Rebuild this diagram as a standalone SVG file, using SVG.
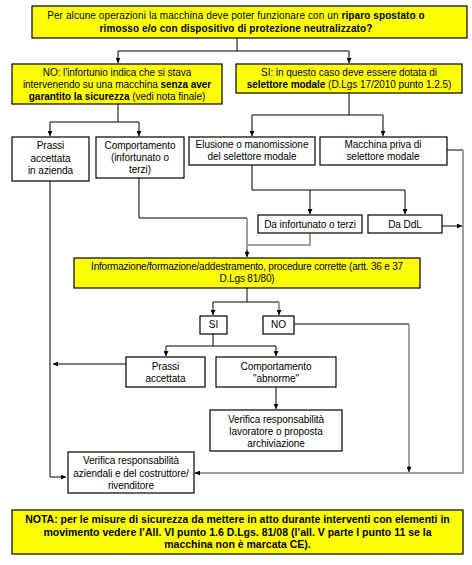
<svg xmlns="http://www.w3.org/2000/svg" width="472" height="565" viewBox="0 0 472 565">
<defs>
<style>
.y{fill:#ffff00;stroke:#000;stroke-width:1.2}
.w{fill:#fff;stroke:#000;stroke-width:1.2}
text{font-family:"Liberation Sans",Arial,sans-serif;font-size:10px;fill:#000;text-anchor:middle;letter-spacing:-0.05px}
.b{font-weight:bold}
.n{font-size:10.5px;letter-spacing:0}
.t{letter-spacing:0.1px}
.i{letter-spacing:-0.2px}
.c{fill:none;stroke:#000;stroke-width:1}
.g{fill:none;stroke:#808080;stroke-width:1.5}
</style>
<marker id="a" viewBox="0 0 8 8" refX="8" refY="4" markerWidth="5" markerHeight="5" orient="auto" markerUnits="userSpaceOnUse"><path d="M0,0L8,4L0,8z" fill="#000"/></marker>
</defs>
<rect width="472" height="565" fill="#fff"/>
<g id="connectors">
<path class="c" d="M237,38V51M118,51H349M118,51V63" marker-end="url(#a)"/>
<path class="c" d="M349,51V63" marker-end="url(#a)"/>
<path class="c" d="M118,104V122M50,122H139M50,122V136" marker-end="url(#a)"/>
<path class="c" d="M139,122V136" marker-end="url(#a)"/>
<path class="c" d="M349,93V115M252,115H383M252,115V136" marker-end="url(#a)"/>
<path class="c" d="M383,115V136" marker-end="url(#a)"/>
<path class="c" d="M252,165V190H405M310,190V214" marker-end="url(#a)"/>
<path class="c" d="M405,190V214" marker-end="url(#a)"/>
<path class="c" d="M442,226H462" marker-end="url(#a)"/>
<path class="c" d="M447,150H463"/>
<path class="g" d="M463,150V473H195"/>
<path class="c" d="M200,473H195" marker-end="url(#a)"/>
<path class="c" d="M139,178V218H247"/>
<path class="g" d="M247,218V252M310,233V245H247"/>
<path class="c" d="M247,250V257" marker-end="url(#a)"/>
<path class="c" d="M50,181V477H66" marker-end="url(#a)"/>
<path class="c" d="M247,288V302M213,302H279M213,302V315" marker-end="url(#a)"/>
<path class="g" d="M279,302V312"/>
<path class="c" d="M279,310V315" marker-end="url(#a)"/>
<path class="c" d="M294,324H409"/>
<path class="g" d="M409,324V468"/>
<path class="c" d="M409,466V472" marker-end="url(#a)"/>
<path class="c" d="M213,334V346M166,346H276M166,346V356" marker-end="url(#a)"/>
<path class="c" d="M276,346V356" marker-end="url(#a)"/>
<path class="c" d="M126,364H53" marker-end="url(#a)"/>
<path class="c" d="M276,387V409" marker-end="url(#a)"/>
</g>
<g id="n-top">
<rect class="y" x="32" y="6" width="435" height="32"/>
<text class="t" x="236" y="19">Per alcune operazioni la macchina deve poter funzionare con un <tspan class="b">riparo spostato o</tspan></text>
<text class="t b" x="236" y="32">rimosso e/o con dispositivo  di protezione neutralizzato?</text>
</g>
<g id="n-no">
<rect class="y" x="12" y="64" width="210" height="40"/>
<text x="117" y="75.5">NO: l'infortunio indica che si stava</text>
<text x="117" y="87.5">intervenendo su una macchina <tspan class="b">senza aver</tspan></text>
<text x="117" y="99.5"><tspan class="b">garantito la sicurezza</tspan> (vedi nota finale)</text>
</g>
<g id="n-si">
<rect class="y" x="236" y="64" width="226" height="29"/>
<text x="349" y="75.5">SI: in questo caso deve essere dotata di</text>
<text x="349" y="88"><tspan class="b">selettore modale</tspan>  (D.Lgs 17/2010 punto 1.2.5)</text>
</g>
<g id="n-prassi">
<rect class="w" x="12" y="137" width="77" height="44"/>
<text x="50.5" y="149">Prassi</text>
<text x="50.5" y="161.5">accettata</text>
<text x="50.5" y="174">in azienda</text>
</g>
<g id="n-comp">
<rect class="w" x="96" y="137" width="88" height="41"/>
<text x="140" y="149">Comportamento</text>
<text x="140" y="161">(infortunato o</text>
<text x="140" y="173">terzi)</text>
</g>
<g id="n-elusione">
<rect class="w" x="189" y="137" width="126" height="28"/>
<text x="252" y="148">Elusione o manomissione</text>
<text x="252" y="159.5">del selettore modale</text>
</g>
<g id="n-priva">
<rect class="w" x="320" y="137" width="127" height="28"/>
<text x="383" y="148">Macchina priva di</text>
<text x="383" y="159.5">selettore modale</text>
</g>
<g id="n-dainf">
<rect class="w" x="258" y="215" width="104" height="18"/>
<text x="310" y="227.5">Da infortunato o terzi</text>
</g>
<g id="n-ddl">
<rect class="w" x="368" y="215" width="74" height="18"/>
<text x="405" y="227.5">Da DdL</text>
</g>
<g id="n-info">
<rect class="y" x="74" y="258" width="346" height="30"/>
<text class="i" x="247" y="270">Informazione/formazione/addestramento, procedure corrette (artt. 36 e 37</text>
<text class="i" x="247" y="282">D.Lgs 81/80)</text>
</g>
<g id="n-si2">
<rect class="w" x="200" y="316" width="27" height="18"/>
<text x="213.5" y="328">SI</text>
</g>
<g id="n-no2">
<rect class="w" x="263" y="316" width="31" height="18"/>
<text x="278.5" y="328">NO</text>
</g>
<g id="n-prassi2">
<rect class="w" x="126" y="357" width="79" height="30"/>
<text x="165.5" y="370">Prassi</text>
<text x="165.5" y="382">accettata</text>
</g>
<g id="n-abnorme">
<rect class="w" x="216" y="357" width="120" height="30"/>
<text x="276" y="370">Comportamento</text>
<text x="276" y="382">"abnorme"</text>
</g>
<g id="n-verlav">
<rect class="w" x="210" y="410" width="132" height="41"/>
<text x="276" y="423">Verifica responsabilità</text>
<text x="276" y="435">lavoratore o proposta</text>
<text x="276" y="447">archiviazione</text>
</g>
<g id="n-verazi">
<rect class="w" x="68" y="452" width="126" height="41"/>
<text x="131" y="464">Verifica responsabilità</text>
<text x="131" y="477">aziendali e del costruttore/</text>
<text x="131" y="489">rivenditore</text>
</g>
<g id="n-nota">
<rect class="y" x="12" y="510" width="451" height="44"/>
<text class="b n" x="237.5" y="523">NOTA: per le misure di sicurezza da mettere in atto durante interventi con elementi in</text>
<text class="b n" x="237.5" y="536">movimento vedere l’All. VI punto 1.6  D.Lgs. 81/08 (l’all. V parte I punto 11 se la</text>
<text class="b n" x="237.5" y="548">macchina non è marcata CE).</text>
</g>
</svg>
